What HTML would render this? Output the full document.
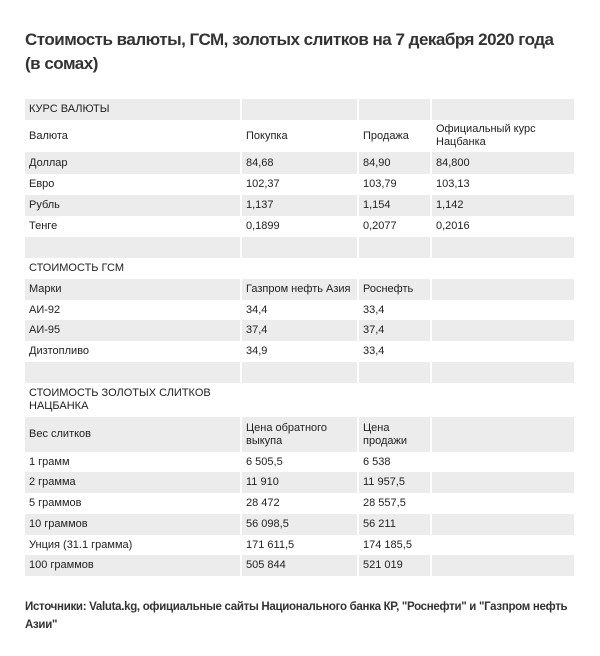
<!DOCTYPE html>
<html><head><meta charset="utf-8"><style>
body{margin:0;background:#fff;width:600px;height:656px;overflow:hidden;font-family:"Liberation Sans",sans-serif;color:#333}
h1{position:absolute;left:25px;top:28px;margin:0;font-size:17px;line-height:24px;font-weight:bold;color:#333;width:580px;letter-spacing:-0.5px;white-space:nowrap}
.t{position:absolute;left:25px;top:99px;width:549px}
.r{display:flex;align-items:center}
.r div{box-sizing:border-box;padding-left:4px;font-size:11px;line-height:13px;height:100%;display:flex;align-items:center;margin-right:2px;color:#222}
.r div:last-child{margin-right:0}
.g div{background:#ececec}
.c1{width:215px}.c2{width:115px}.c3{width:71px}.c4{width:142px}
.src{position:absolute;left:25px;top:598px;font-size:11.5px;line-height:18px;font-weight:bold;width:570px;color:#333;letter-spacing:-0.3px}
</style></head><body>
<h1>Стоимость валюты, ГСМ, золотых слитков на 7 декабря 2020 года<br>(в сомах)</h1>
<div class="t">
<div class="r g" style="height:21px"><div class="c1">КУРС ВАЛЮТЫ</div><div class="c2"></div><div class="c3"></div><div class="c4"></div></div>
<div class="r" style="height:32px"><div class="c1">Валюта</div><div class="c2">Покупка</div><div class="c3">Продажа</div><div class="c4">Официальный курс Нацбанка</div></div>
<div class="r g" style="height:22px"><div class="c1">Доллар</div><div class="c2">84,68</div><div class="c3">84,90</div><div class="c4">84,800</div></div>
<div class="r" style="height:21px"><div class="c1">Евро</div><div class="c2">102,37</div><div class="c3">103,79</div><div class="c4">103,13</div></div>
<div class="r g" style="height:21px"><div class="c1">Рубль</div><div class="c2">1,137</div><div class="c3">1,154</div><div class="c4">1,142</div></div>
<div class="r" style="height:21px"><div class="c1">Тенге</div><div class="c2">0,1899</div><div class="c3">0,2077</div><div class="c4">0,2016</div></div>
<div class="r g" style="height:21px"><div class="c1"></div><div class="c2"></div><div class="c3"></div><div class="c4"></div></div>
<div class="r" style="height:21px"><div class="c1">СТОИМОСТЬ ГСМ</div><div class="c2"></div><div class="c3"></div><div class="c4"></div></div>
<div class="r g" style="height:21px"><div class="c1">Марки</div><div class="c2">Газпром нефть Азия</div><div class="c3">Роснефть</div><div class="c4"></div></div>
<div class="r" style="height:20px"><div class="c1">АИ-92</div><div class="c2">34,4</div><div class="c3">33,4</div><div class="c4"></div></div>
<div class="r g" style="height:21px"><div class="c1">АИ-95</div><div class="c2">37,4</div><div class="c3">37,4</div><div class="c4"></div></div>
<div class="r" style="height:21px"><div class="c1">Дизтопливо</div><div class="c2">34,9</div><div class="c3">33,4</div><div class="c4"></div></div>
<div class="r g" style="height:21px"><div class="c1"></div><div class="c2"></div><div class="c3"></div><div class="c4"></div></div>
<div class="r" style="height:34px"><div class="c1" style="width:400px">СТОИМОСТЬ ЗОЛОТЫХ СЛИТКОВ<br>НАЦБАНКА</div></div>
<div class="r g" style="height:35px"><div class="c1">Вес слитков</div><div class="c2">Цена обратного выкупа</div><div class="c3">Цена продажи</div><div class="c4"></div></div>
<div class="r" style="height:20px"><div class="c1">1 грамм</div><div class="c2">6 505,5</div><div class="c3">6 538</div><div class="c4"></div></div>
<div class="r g" style="height:21px"><div class="c1">2 грамма</div><div class="c2">11 910</div><div class="c3">11 957,5</div><div class="c4"></div></div>
<div class="r" style="height:21px"><div class="c1">5 граммов</div><div class="c2">28 472</div><div class="c3">28 557,5</div><div class="c4"></div></div>
<div class="r g" style="height:21px"><div class="c1">10 граммов</div><div class="c2">56 098,5</div><div class="c3">56 211</div><div class="c4"></div></div>
<div class="r" style="height:20px"><div class="c1">Унция (31.1 грамма)</div><div class="c2">171 611,5</div><div class="c3">174 185,5</div><div class="c4"></div></div>
<div class="r g" style="height:21px"><div class="c1">100 граммов</div><div class="c2">505 844</div><div class="c3">521 019</div><div class="c4"></div></div>
</div>
<div class="src">Источники: Valuta.kg, официальные сайты Национального банка КР, "Роснефти" и "Газпром нефть Азии"</div>
</body></html>
